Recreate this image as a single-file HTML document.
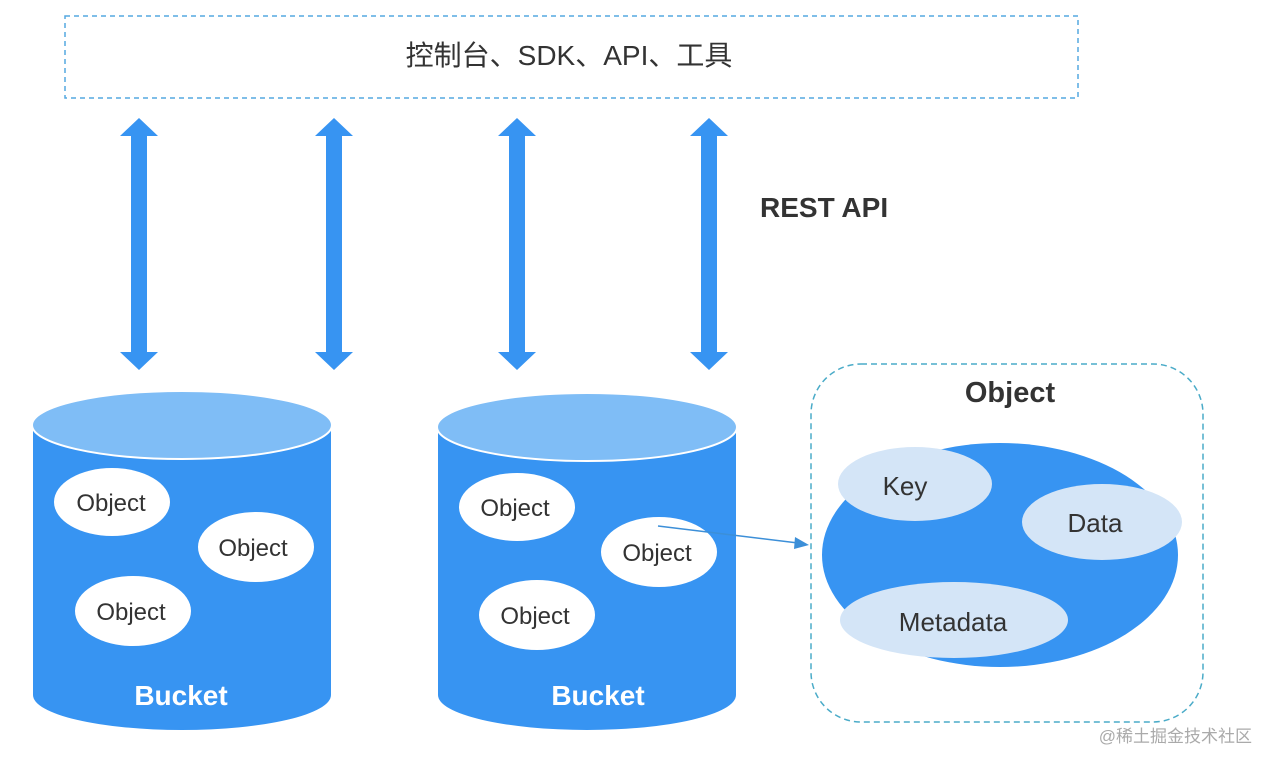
<!DOCTYPE html>
<html><head><meta charset="utf-8"><style>
body{margin:0;background:#fff;}
svg{display:block;}
text{font-family:"Liberation Sans","Noto Sans CJK SC",sans-serif;}
</style></head><body>
<svg width="1274" height="766" viewBox="0 0 1274 766" xmlns="http://www.w3.org/2000/svg">
<defs>
<g id="dar">
<polygon points="0,-126 -19,-108 -8,-108 -8,108 -19,108 0,126 19,108 8,108 8,-108 19,-108" fill="#3794f2"/>
</g>
</defs>
<rect x="65" y="16" width="1013" height="82" fill="none" stroke="#55a8e0" stroke-width="1.5" stroke-dasharray="5,4"/>
<text x="569" y="65" font-size="28" text-anchor="middle" fill="#333">控制台、SDK、API、工具</text>
<use href="#dar" x="139" y="244"/>
<use href="#dar" x="334" y="244"/>
<use href="#dar" x="517" y="244"/>
<use href="#dar" x="709" y="244"/>
<text x="760" y="217" font-size="28" font-weight="bold" fill="#333">REST API</text>

<!-- cylinder 1 -->
<path d="M33,425 L33,695 A149,35 0 0 0 331,695 L331,425 Z" fill="#3794f2"/>
<ellipse cx="182" cy="425" rx="150" ry="34" fill="#7fbdf6" stroke="#fff" stroke-width="2"/>
<ellipse cx="112" cy="502" rx="58" ry="34" fill="#fff"/>
<ellipse cx="256" cy="547" rx="58" ry="35" fill="#fff"/>
<ellipse cx="133" cy="611" rx="58" ry="35" fill="#fff"/>
<text x="111" y="511" font-size="24" text-anchor="middle" fill="#333">Object</text>
<text x="253" y="556" font-size="24" text-anchor="middle" fill="#333">Object</text>
<text x="131" y="620" font-size="24" text-anchor="middle" fill="#333">Object</text>
<text x="181" y="705" font-size="28" font-weight="bold" text-anchor="middle" fill="#fff">Bucket</text>

<!-- cylinder 2 -->
<path d="M438,427 L438,695 A149,35 0 0 0 736,695 L736,427 Z" fill="#3794f2"/>
<ellipse cx="587" cy="427" rx="150" ry="34" fill="#7fbdf6" stroke="#fff" stroke-width="2"/>
<ellipse cx="517" cy="507" rx="58" ry="34" fill="#fff"/>
<ellipse cx="659" cy="552" rx="58" ry="35" fill="#fff"/>
<ellipse cx="537" cy="615" rx="58" ry="35" fill="#fff"/>
<text x="515" y="516" font-size="24" text-anchor="middle" fill="#333">Object</text>
<text x="657" y="561" font-size="24" text-anchor="middle" fill="#333">Object</text>
<text x="535" y="624" font-size="24" text-anchor="middle" fill="#333">Object</text>
<text x="598" y="705" font-size="28" font-weight="bold" text-anchor="middle" fill="#fff">Bucket</text>

<!-- connector -->
<line x1="658" y1="526" x2="798" y2="543" stroke="#3c8fd8" stroke-width="1.5"/>
<polygon points="809,545 795,537 794,549" fill="#3c8fd8"/>

<!-- object box -->
<rect x="811" y="364" width="392" height="358" rx="50" fill="none" stroke="#4aabc8" stroke-width="1.5" stroke-dasharray="6,4"/>
<text x="1010" y="402" font-size="29" font-weight="bold" text-anchor="middle" fill="#333">Object</text>
<ellipse cx="1000" cy="555" rx="178" ry="112" fill="#3794f2"/>
<ellipse cx="915" cy="484" rx="77" ry="37" fill="#d4e5f7"/>
<ellipse cx="1102" cy="522" rx="80" ry="38" fill="#d4e5f7"/>
<ellipse cx="954" cy="620" rx="114" ry="38" fill="#d4e5f7"/>
<text x="905" y="495" font-size="26" text-anchor="middle" fill="#333">Key</text>
<text x="1095" y="532" font-size="26" text-anchor="middle" fill="#333">Data</text>
<text x="953" y="631" font-size="26" text-anchor="middle" fill="#333">Metadata</text>

<text x="1252" y="742" font-size="17" text-anchor="end" fill="#aaa">@稀土掘金技术社区</text>
</svg>
</body></html>
